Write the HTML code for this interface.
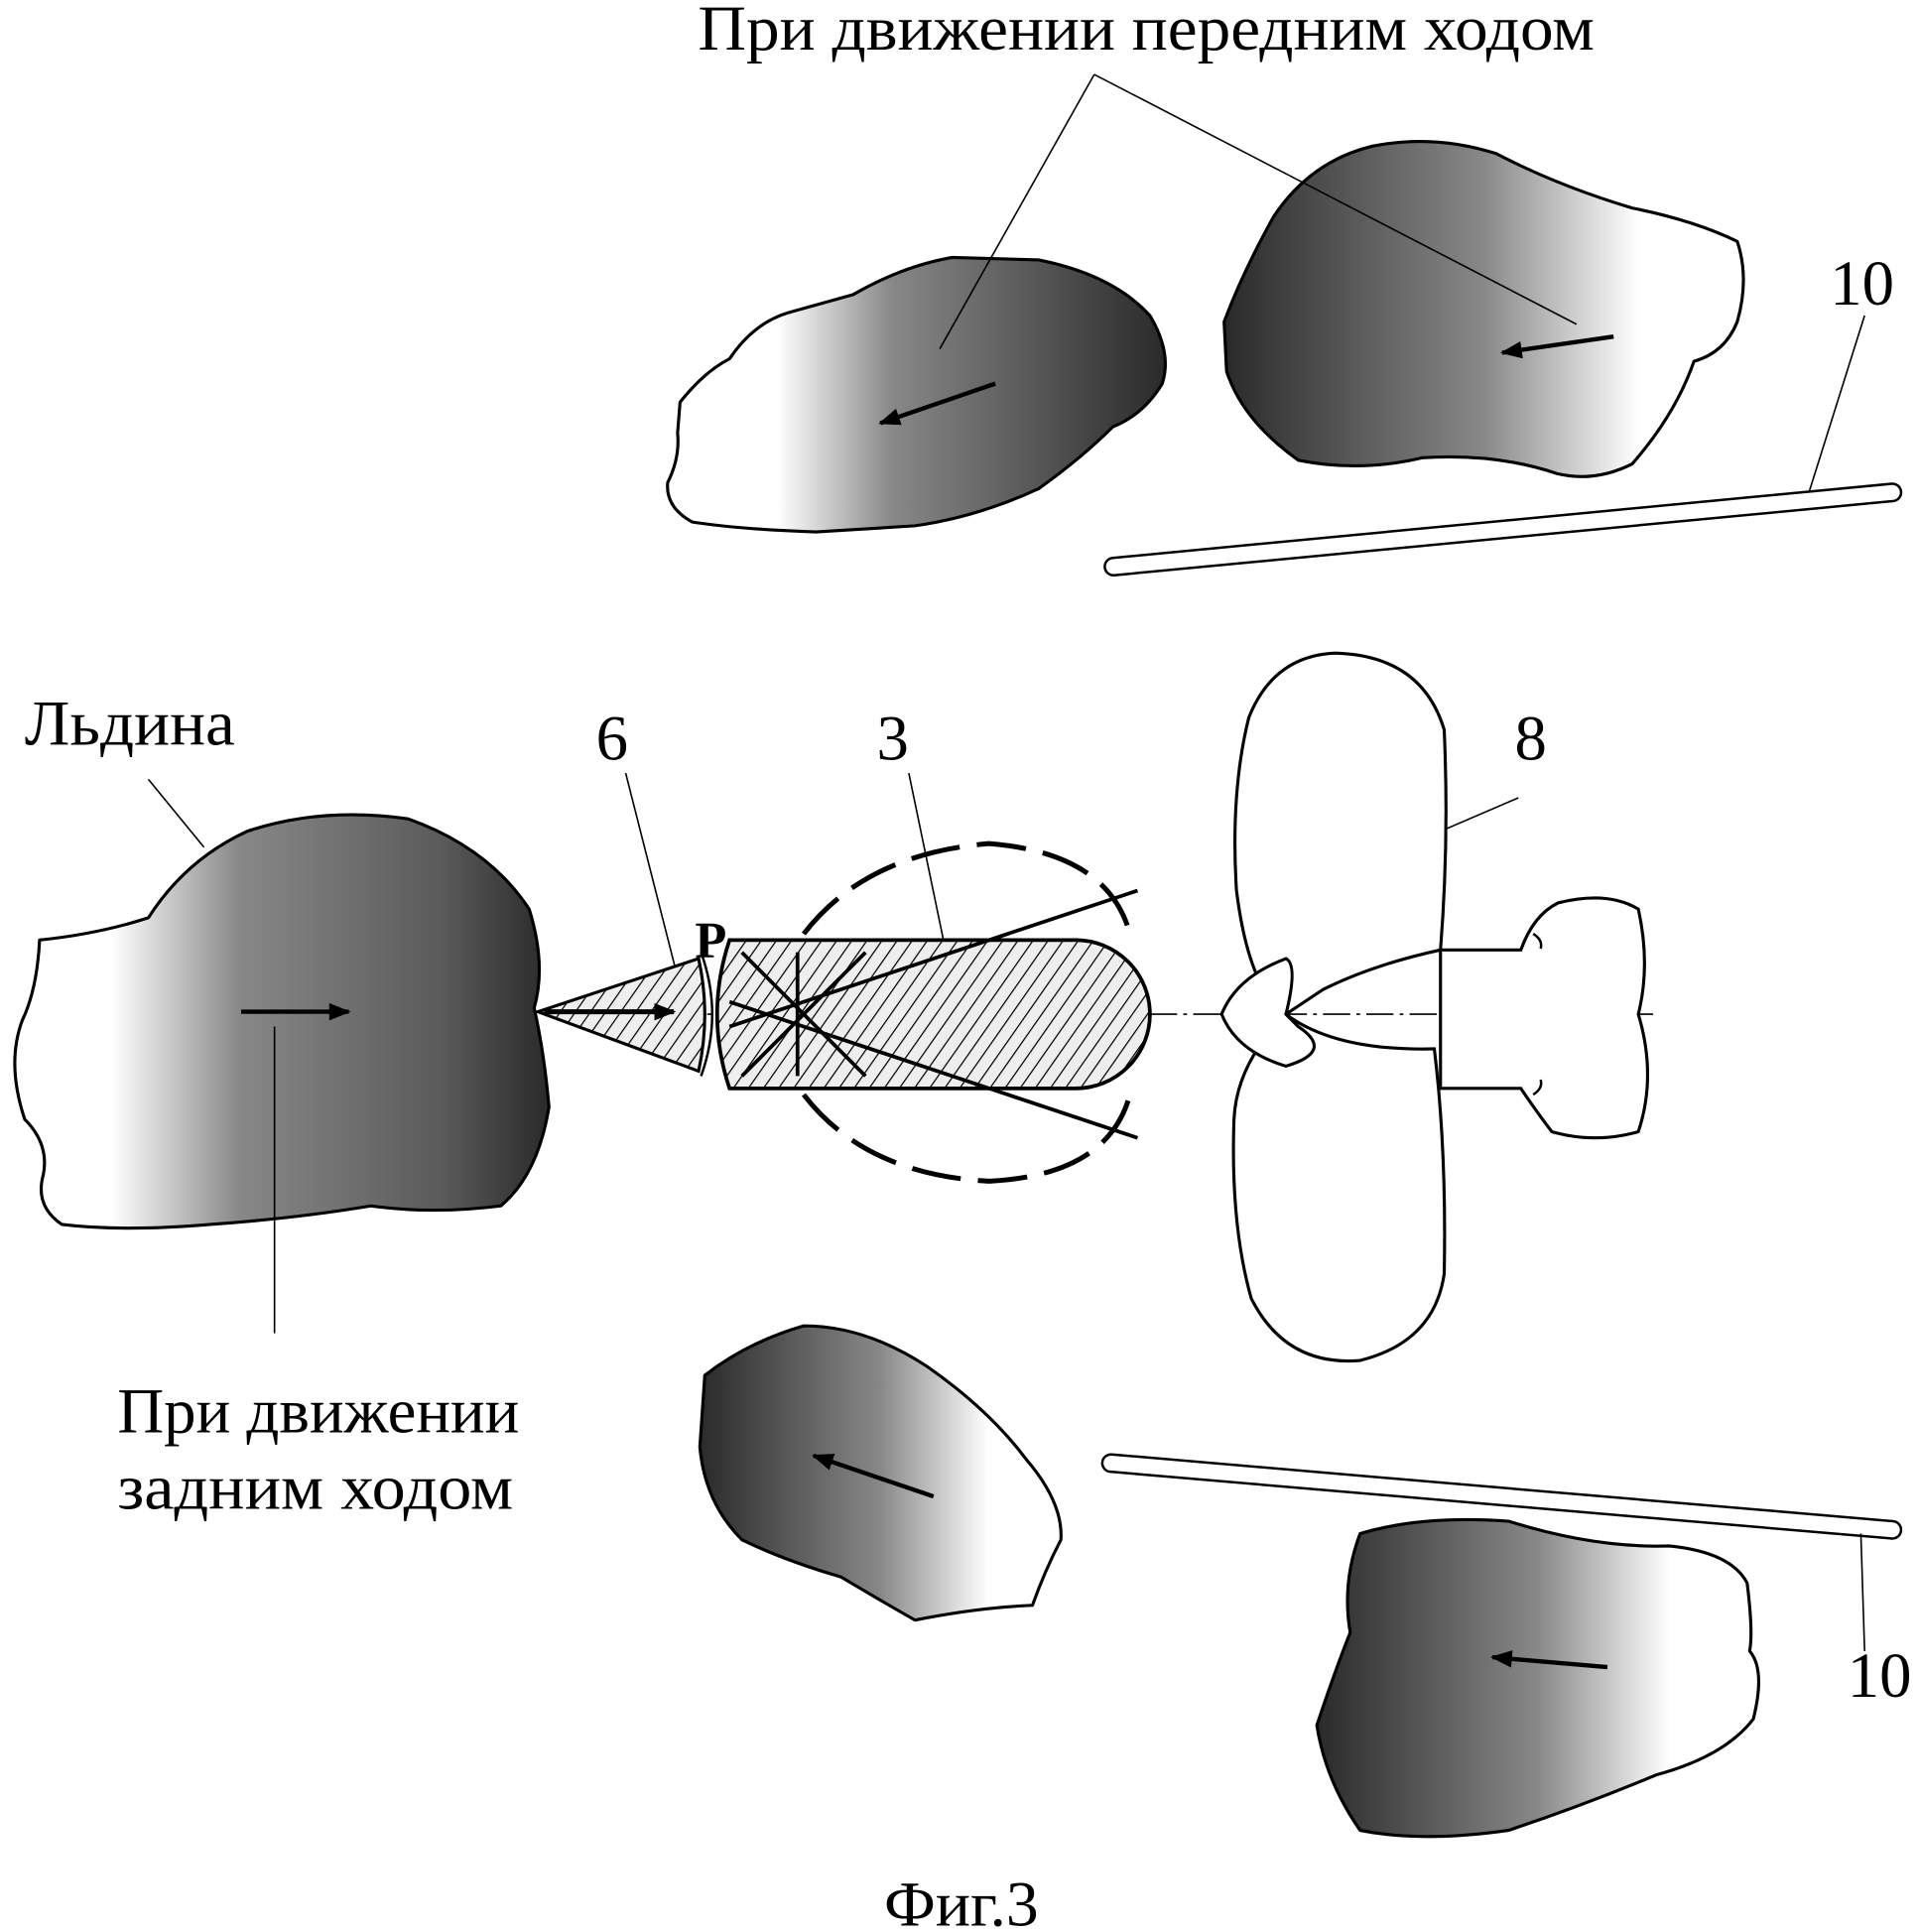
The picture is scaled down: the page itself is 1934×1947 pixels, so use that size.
<!DOCTYPE html>
<html><head><meta charset="utf-8"><style>html,body{margin:0;padding:0;background:#fff}svg{display:block}</style></head>
<body>
<svg width="1934" height="1947" viewBox="0 0 1552 1562" xmlns="http://www.w3.org/2000/svg" font-family="Liberation Serif, serif">
<defs>
<linearGradient id="gR" x1="0" y1="0" x2="1" y2="0"><stop offset="0.22" stop-color="#fff"/><stop offset="0.45" stop-color="#888"/><stop offset="1" stop-color="#2a2a2a"/></linearGradient>
<linearGradient id="gL" x1="0" y1="0" x2="1" y2="0"><stop offset="0" stop-color="#2a2a2a"/><stop offset="0.5" stop-color="#888"/><stop offset="0.8" stop-color="#fff"/></linearGradient>
<linearGradient id="gBig" x1="0" y1="0" x2="1" y2="0"><stop offset="0.18" stop-color="#fff"/><stop offset="0.42" stop-color="#888"/><stop offset="0.8" stop-color="#5a5a5a"/><stop offset="1" stop-color="#2a2a2a"/></linearGradient>
<pattern id="hatch" width="10" height="10" patternUnits="userSpaceOnUse" patternTransform="rotate(35)"><rect width="10" height="10" fill="#eee"/><line x1="0" y1="0" x2="0" y2="10" stroke="#000" stroke-width="2"/></pattern>
<marker id="ar2" viewBox="0 0 10 8" markerWidth="22" markerHeight="14" refX="9" refY="4" orient="auto" markerUnits="userSpaceOnUse"><path d="M0,0 L10,4 L0,8 Z" fill="#000"/></marker>
</defs>
<g stroke="#000" stroke-width="2.5" stroke-linejoin="round">
<path fill="url(#gR)" d="M550,325 Q570,300 590,290 Q610,260 640,252 L690,238 Q730,215 770,208 L840,210 Q900,222 930,255 Q948,285 940,310 Q925,335 900,345 Q875,370 840,395 Q790,418 740,425 L660,430 Q600,428 560,422 Q538,410 540,390 Q550,370 548,350 Z"/>
<path fill="url(#gL)" d="M990,260 Q1005,220 1030,175 Q1060,130 1110,118 Q1160,108 1210,124 Q1260,150 1320,168 Q1370,178 1405,195 Q1415,225 1405,260 Q1395,285 1370,292 Q1355,335 1320,375 Q1290,390 1260,383 Q1210,366 1150,370 Q1100,382 1050,372 Q1005,340 992,300 Z"/>
<path fill="url(#gBig)" d="M32,760 Q80,755 120,742 Q150,695 200,672 Q260,652 330,662 Q395,685 428,735 Q442,780 432,815 Q440,850 444,895 Q435,950 405,975 Q350,982 300,975 Q240,985 170,990 Q100,996 50,990 Q28,975 35,950 Q40,925 20,905 Q5,860 18,825 Q30,800 32,760 Z"/>
<path fill="url(#gL)" d="M570,1112 Q605,1085 650,1072 Q700,1072 750,1105 Q800,1140 830,1180 Q860,1215 858,1245 Q845,1270 835,1298 Q790,1300 740,1310 Q705,1290 680,1275 Q635,1262 600,1245 Q570,1215 566,1170 Z"/>
<path fill="url(#gL)" d="M1100,1240 Q1150,1225 1220,1230 Q1290,1252 1350,1250 Q1400,1255 1413,1280 Q1418,1320 1415,1335 Q1428,1350 1418,1390 Q1395,1420 1340,1435 Q1280,1460 1220,1480 Q1150,1490 1100,1480 Q1072,1440 1065,1395 Q1080,1350 1092,1320 Q1085,1280 1100,1240 Z"/>
</g>
<g fill="#fff" stroke="#000" stroke-width="2">
<path d="M900,451 L1530,391 A7,7 0 0 1 1531,405 L901,465 A7,7 0 0 1 900,451 Z"/>
<path d="M899,1176 L1531,1230 A7,7 0 0 1 1530,1244 L898,1190 A7,7 0 0 1 899,1176 Z"/>
</g>
<g stroke="#000" stroke-width="1.3" fill="none">
<line x1="885" y1="60" x2="760" y2="282"/>
<line x1="885" y1="60" x2="1275" y2="262"/>
<line x1="1508" y1="255" x2="1463" y2="398"/>
<line x1="1508" y1="1335" x2="1505" y2="1240"/>
<line x1="120" y1="630" x2="165" y2="685"/>
<line x1="222" y1="830" x2="222" y2="1078"/>
<line x1="506" y1="625" x2="548" y2="790"/>
<line x1="735" y1="625" x2="763" y2="760"/>
<line x1="1228" y1="645" x2="1100" y2="700"/>
</g>
<g stroke="#000" stroke-width="3.5" marker-end="url(#ar2)">
<line x1="805" y1="310" x2="712" y2="342"/>
<line x1="1305" y1="272" x2="1215" y2="285"/>
<line x1="195" y1="818" x2="282" y2="818"/>
<line x1="755" y1="1210" x2="658" y2="1177"/>
<line x1="1300" y1="1348" x2="1207" y2="1340"/>
</g>
<line x1="440" y1="820" x2="1340" y2="820" stroke="#000" stroke-width="1.3" stroke-dasharray="22,5,3,5"/>
<g fill="#fff" stroke="#000" stroke-width="2.5">
<path d="M1165,768 L1230,768 Q1240,740 1260,730 Q1300,720 1325,735 Q1335,780 1325,820 Q1340,870 1325,915 Q1290,925 1255,915 Q1240,895 1230,880 L1165,880 Z"/>
<path d="M1040,820 Q1010,800 1000,720 Q995,640 1010,580 Q1030,530 1080,528 Q1150,530 1168,590 Q1172,680 1165,768 Q1110,780 1070,800 Z"/>
<path d="M1040,820 Q1080,850 1160,848 Q1170,930 1168,1030 Q1160,1085 1100,1100 Q1040,1105 1012,1050 Q995,990 998,905 Q1000,860 1040,820 Z"/>
<path d="M1040,820 Q1050,780 1040,775 Q1000,790 988,820 Q1000,850 1040,862 Q1080,850 1050,830 Z"/>
</g>
<line x1="1165" y1="768" x2="1165" y2="880" stroke="#000" stroke-width="2"/>
<g stroke="#000" stroke-width="2" fill="none"><path d="M1240,755 q8,5 6,12"/><path d="M1240,885 q8,-5 6,-12"/></g>
<g stroke="#000" stroke-width="4" fill="none" stroke-dasharray="40,14">
<path d="M650,755 Q700,690 800,682 Q900,690 915,760"/>
<path d="M650,885 Q700,950 800,955 Q900,950 915,880"/>
</g>
<path d="M590,760 L870,760 A60,60 0 0 1 870,880 L590,880 Q570,820 590,760 Z" fill="url(#hatch)" stroke="#000" stroke-width="3"/>
<g stroke="#000" stroke-width="3"><line x1="590" y1="830" x2="920" y2="720"/><line x1="590" y1="810" x2="920" y2="920"/><line x1="645" y1="770" x2="645" y2="870"/><line x1="600" y1="770" x2="700" y2="870"/><line x1="700" y1="770" x2="600" y2="870"/></g>
<path d="M435,818 L565,775 Q575,820 565,866 Z" fill="url(#hatch)" stroke="#000" stroke-width="2.5"/>
<path d="M567,770 Q585,820 567,870" fill="none" stroke="#000" stroke-width="2"/>
<line x1="440" y1="818" x2="545" y2="818" stroke="#000" stroke-width="4" marker-end="url(#ar2)"/>
<g font-size="52" fill="#000">
<text x="927" y="40" text-anchor="middle" textLength="725" lengthAdjust="spacingAndGlyphs">При движении передним ходом</text>
<text x="1506" y="246" text-anchor="middle">10</text>
<text x="1520" y="1372" text-anchor="middle">10</text>
<text x="20" y="602" textLength="170" lengthAdjust="spacingAndGlyphs">Льдина</text>
<text x="95" y="1158" textLength="325" lengthAdjust="spacingAndGlyphs">При движении</text>
<text x="95" y="1220" textLength="320" lengthAdjust="spacingAndGlyphs">задним ходом</text>
<text x="495" y="614" text-anchor="middle">6</text>
<text x="722" y="614" text-anchor="middle">3</text>
<text x="1238" y="614" text-anchor="middle">8</text>
<text x="562" y="774" font-weight="bold" font-size="42">P</text>
<text x="715" y="1557" textLength="125" lengthAdjust="spacingAndGlyphs">Фиг.3</text>
</g>
</svg>
</body></html>
